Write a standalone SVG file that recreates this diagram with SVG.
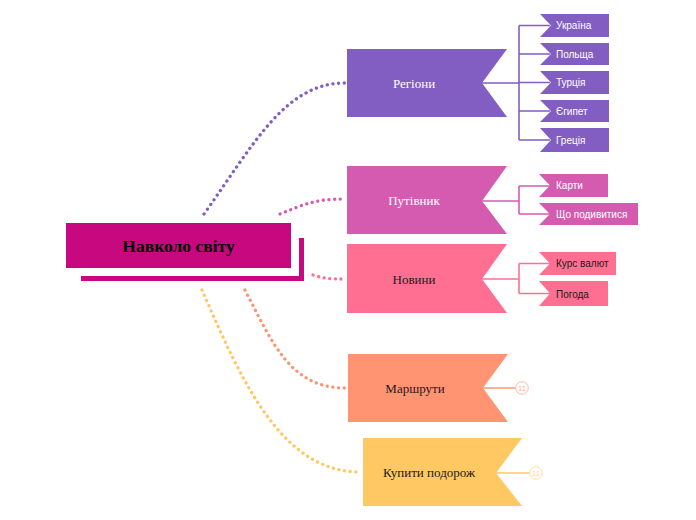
<svg xmlns="http://www.w3.org/2000/svg" width="696" height="520" viewBox="0 0 696 520">
<style>
.dot{fill:none;stroke-width:3.3;stroke-linecap:round;stroke-dasharray:0.1 5.6}
.ln{fill:none;stroke-width:1.6}
.main{font-family:"Liberation Serif",serif;font-size:13px;text-anchor:middle}
.sub{font-family:"Liberation Sans",Arial,sans-serif;font-size:10px}
.cnt{font-family:"Liberation Sans",Arial,sans-serif;font-size:7.5px;text-anchor:middle}
.w{fill:#ffffff}
.k{fill:#1a1a1a}
.pur{fill:#835EC2}
.pnk{fill:#D45BB0}
.ros{fill:#FF6F91}
.sal{fill:#FF9473}
.yel{fill:#FFC862}
</style>
<rect width="696" height="520" fill="#ffffff"/>
<g id="connectors">
<path class="dot" stroke="#835EC2" d="M204,214 C254,144 285,83 345,83"/>
<path class="dot" stroke="#D45BB0" d="M280,214 C305,204 315,199 345,199"/>
<path class="dot" stroke="#FF6F91" d="M313,275 C325,279 332,279 345,279"/>
<path class="dot" stroke="#FF9473" d="M245,290 C272,342 290,388 345,388"/>
<path class="dot" stroke="#FFC862" d="M202,290 C242,382 282,472 360,472"/>
<path class="ln" stroke="#835EC2" d="M482,83 H519 M519,25.5 V140 M519,25.5 H550 M519,54 H550 M519,82.5 H550 M519,111 H550 M519,140 H550"/>
<path class="ln" stroke="#D45BB0" d="M482,201 H519 M519,186 V214 M519,186 H550 M519,214 H550"/>
<path class="ln" stroke="#FF6F91" d="M482,279 H519 M519,263.5 V293.5 M519,263.5 H550 M519,293.5 H550"/>
<path class="ln" stroke="#FF9473" d="M483,388 H515.5"/>
<path class="ln" stroke="#FFC862" d="M496,473 H529.5"/>
</g>
<g id="central">
<path d="M81,278.5 H301.5 V238" fill="none" stroke="#C8087F" stroke-width="5"/>
<rect x="66" y="223" width="225" height="45" fill="#C8087F"/>
<text x="178.5" y="252" font-family="Liberation Serif,serif" font-size="17.5" font-weight="bold" text-anchor="middle" fill="#000">Навколо світу</text>
</g>
<g id="regiony">
<polygon class="pur" points="347,49 507,49 482,83 507,117 347,117"/>
<text class="main w" x="414" y="88">Регіони</text>
</g>
<g id="ukraina"><polygon class="pur" points="540,14 609,14 609,37 540,37 551,25.5"/><text class="sub w" x="556" y="29">Україна</text></g>
<g id="polshcha"><polygon class="pur" points="540,43 609,43 609,65 540,65 551,54"/><text class="sub w" x="556" y="57.5">Польща</text></g>
<g id="turtsiia"><polygon class="pur" points="540,71 609,71 609,94 540,94 551,82.5"/><text class="sub w" x="556" y="86">Турція</text></g>
<g id="yehypet"><polygon class="pur" points="540,100 609,100 609,122 540,122 551,111"/><text class="sub w" x="556" y="114.5">Єгипет</text></g>
<g id="gretsiia"><polygon class="pur" points="540,128 609,128 609,152 540,152 551,140"/><text class="sub w" x="556" y="143.5">Греція</text></g>
<g id="putivnyk">
<polygon class="pnk" points="347,166 507,166 482,201 507,234 347,234"/>
<text class="main w" x="414" y="205">Путівник</text>
</g>
<g id="karty"><polygon class="pnk" points="539,174 608,174 608,197 539,197 550,185.5"/><text class="sub w" x="556" y="189">Карти</text></g>
<g id="shcho"><polygon class="pnk" points="539,203 638,203 638,225 539,225 550,214"/><text class="sub w" x="556" y="217.5">Що подивитися</text></g>
<g id="novyny">
<polygon class="ros" points="347,244 507,244 482,279 507,313 347,313"/>
<text class="main k" x="414" y="284">Новини</text>
</g>
<g id="kurs"><polygon class="ros" points="539,252 616,252 616,275 539,275 550,263.5"/><text class="sub k" x="556" y="267">Курс валют</text></g>
<g id="pohoda"><polygon class="ros" points="539,281 608,281 608,306 539,306 550,293.5"/><text class="sub k" x="556" y="297.5">Погода</text></g>
<g id="marshruty">
<polygon class="sal" points="348,354 508,354 483,388 508,422 348,422"/>
<text class="main k" x="415" y="393">Маршрути</text>
<circle cx="522" cy="388" r="6.3" fill="#fff" stroke="#FFB9A3" stroke-width="1"/>
<text class="cnt" x="522" y="390.7" fill="#FFB09A">11</text>
</g>
<g id="kupyty">
<polygon class="yel" points="363,438 522,438 496,473 522,506 363,506"/>
<text class="main k" x="429" y="477">Купити подорож</text>
<circle cx="536" cy="473" r="6.3" fill="#fff" stroke="#FFDD9E" stroke-width="1"/>
<text class="cnt" x="536" y="475.7" fill="#FFD68C">11</text>
</g>
</svg>
